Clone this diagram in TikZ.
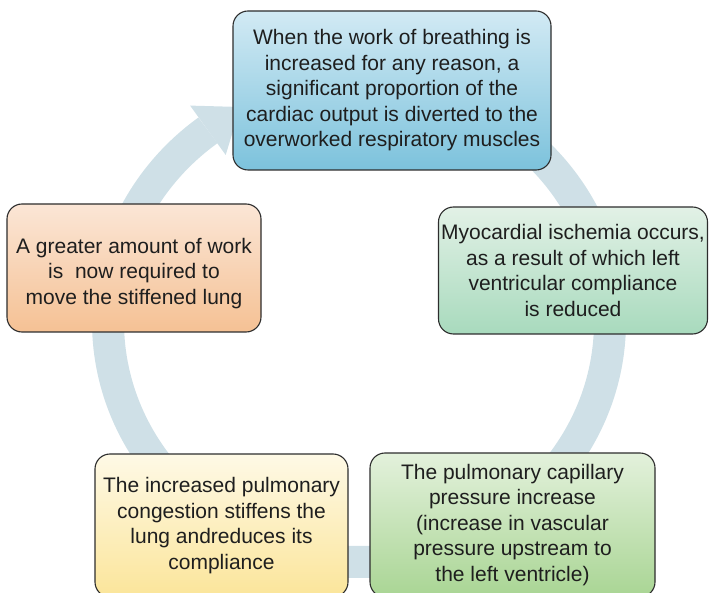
\documentclass[tikz,border=0pt]{standalone}
\usepackage{fontspec}
\setmainfont{Liberation Sans}
\usetikzlibrary{calc}

\definecolor{ringc}{RGB}{207,224,231}
\definecolor{edgec}{RGB}{45,45,45}
\definecolor{textc}{RGB}{30,30,30}
% box gradients (top / middle / bottom)
\definecolor{blueT}{RGB}{210,234,244}
\definecolor{blueM}{RGB}{140,203,226}
\definecolor{blueB}{RGB}{124,194,220}
\definecolor{mintT}{RGB}{226,241,230}
\definecolor{mintM}{RGB}{182,224,199}
\definecolor{mintB}{RGB}{168,218,189}
\definecolor{leafT}{RGB}{227,241,220}
\definecolor{leafM}{RGB}{184,220,166}
\definecolor{leafB}{RGB}{169,213,148}
\definecolor{sunT}{RGB}{254,249,230}
\definecolor{sunM}{RGB}{252,236,181}
\definecolor{sunB}{RGB}{251,229,154}
\definecolor{peachT}{RGB}{251,230,214}
\definecolor{peachM}{RGB}{247,203,166}
\definecolor{peachB}{RGB}{245,193,148}

\begin{document}
\begin{tikzpicture}[x=1pt,y=-1pt,
  box/.style={draw=edgec, line width=1.1pt, rounded corners=15pt,
    inner sep=0pt, align=center, text=textc,
    font=\fontsize{21}{25.5}\selectfont},
  label text/.style={inner sep=0pt, align=center, text=textc,
    font=\fontsize{21}{25.5}\selectfont},
  ring/.style={draw=ringc, line width=32pt}]
\useasboundingbox (0,0) rectangle (709,593);

% circular cycle arrow behind the boxes
\draw[ring] plot[domain=-233:95, samples=240]
  ({359+251*cos(\x)},{322-240*sin(\x)});
\coordinate (hbarbA) at (190.1,105.6);
\coordinate (hbarbB) at (225.7,155.0);
\coordinate (htip)   at (240.3,107.0);
\fill[ringc] (hbarbA) -- (htip) -- (hbarbB) -- cycle;

% the five stages
\node[box, minimum width=318pt, minimum height=159pt,
  top color=blueT, middle color=blueM, bottom color=blueB] (breath) at (392,90.5)
  {When the work of breathing is\\increased for any reason, a\\significant proportion of the\\cardiac output is diverted to the\\overworked respiratory muscles};

\node[box, minimum width=269pt, minimum height=127pt,
  top color=mintT, middle color=mintM, bottom color=mintB] (ischemia) at (573,270.5)
  {Myocardial ischemia occurs,\\as a result of which left\\ventricular compliance\\is reduced};

\node[box, minimum width=285pt, minimum height=144pt,
  top color=leafT, middle color=leafM, bottom color=leafB] (capillary) at (512.5,525)
  {The pulmonary capillary\\pressure increase\\(increase in vascular\\pressure upstream to\\the left ventricle)};

\node[box, minimum width=253pt, minimum height=143pt,
  top color=sunT, middle color=sunM, bottom color=sunB] (congest) at (221.5,525.5)
  {The increased pulmonary\\congestion stiffens the\\lung andreduces its\\compliance};

\node[box, minimum width=254pt, minimum height=128pt,
  top color=peachT, middle color=peachM, bottom color=peachB] (work) at (134,268) {};
\node[label text] (worktext) at ($(work.center)+(0,5.5)$)
  {A greater amount of work\\is\ \ now required to\\move the stiffened lung};
\end{tikzpicture}
\end{document}
